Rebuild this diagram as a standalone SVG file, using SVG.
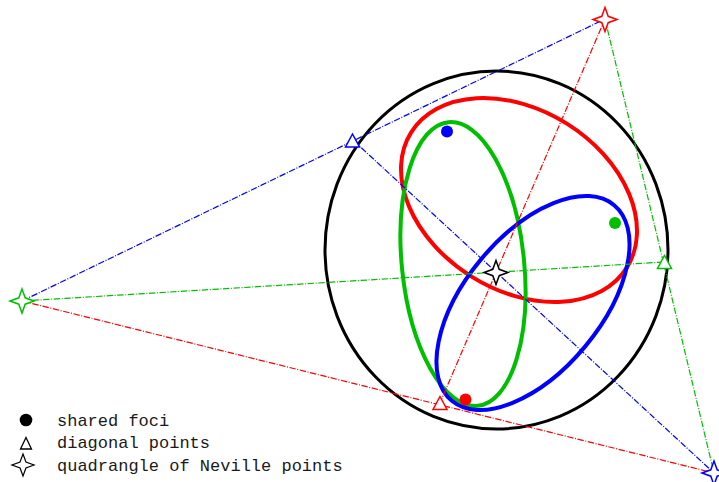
<svg xmlns="http://www.w3.org/2000/svg" width="719" height="482" viewBox="0 0 719 482">
<style>
  .conn { fill: none; stroke-width: 1.2; stroke-dasharray: 6.4 1.6 1 1.6; }
  .ell { fill: none; stroke-width: 4; }
  .star { fill: #ffffff; stroke-width: 1.5; stroke-linejoin: miter; }
  .tri { fill: #ffffff; stroke-width: 1.5; }
  .lbl { font-family: "Liberation Mono", "Courier New", monospace; font-size: 17px; fill: #1a1a1a; }
</style>
<defs>
  <path id="star4" d="M0,-12 L3.2,-3.2 L12,0 L3.2,3.2 L0,12 L-3.2,3.2 L-12,0 L-3.2,-3.2 Z"/>
  <path id="tri" d="M0,-6.5 L7,6.5 L-7,6.5 Z"/>
</defs>
<rect width="719" height="482" fill="#ffffff"/>

<g id="circle">
  <ellipse cx="496.5" cy="250" rx="171.5" ry="179" fill="none" stroke="#000000" stroke-width="3"/>
</g>

<g id="conics">
  <ellipse id="ellipse-red" class="ell" stroke="#ff0000" cx="519" cy="200" rx="127.3" ry="90.1" transform="rotate(32.1 519 200)"/>
  <ellipse id="ellipse-green" class="ell" stroke="#00bf00" cx="463" cy="264" rx="142.6" ry="61.1" transform="rotate(84.1 463 264)"/>
  <ellipse id="ellipse-blue" class="ell" stroke="#0000ff" cx="533" cy="303" rx="127.1" ry="67.9" transform="rotate(-50.3 533 303)"/>
</g>

<g id="connectors">
  <path class="conn" stroke="#0000ff" d="M22,301 L605,19"/>
  <path class="conn" stroke="#0000ff" d="M353.5,140.6 L714,473"/>
  <path class="conn" stroke="#ff0000" d="M22,301 L714,473"/>
  <path class="conn" stroke="#ff0000" d="M439.5,404 L605,19"/>
  <path class="conn" stroke="#00bf00" d="M22,301 L664,262"/>
  <path class="conn" stroke="#00bf00" d="M605,19 L714,473"/>
</g>

<g id="focus-blue"><circle cx="447" cy="131.5" r="6" fill="#0000ff"/></g>
<g id="focus-green"><circle cx="615" cy="223" r="6" fill="#00bf00"/></g>
<g id="focus-red"><circle cx="465.5" cy="399.5" r="6" fill="#ff0000"/></g>

<g id="diag-blue"><use href="#tri" class="tri" stroke="#0000ff" transform="translate(352.5,140.5)"/></g>
<g id="diag-green"><use href="#tri" class="tri" stroke="#00bf00" transform="translate(664.5,262)"/></g>
<g id="diag-red"><use href="#tri" class="tri" stroke="#ff0000" transform="translate(440,403)"/></g>

<g id="neville-red"><use href="#star4" class="star" stroke="#ff0000" transform="translate(605,19.5)"/></g>
<g id="neville-green"><use href="#star4" class="star" stroke="#00bf00" transform="translate(22,301)"/></g>
<g id="neville-blue"><use href="#star4" class="star" stroke="#0000ff" transform="translate(714,473)"/></g>
<g id="neville-black"><use href="#star4" class="star" stroke="#000000" transform="translate(496,272.5)"/></g>

<g id="legend">
  <g id="legend-foci">
    <circle cx="26" cy="420" r="6.3" fill="#000000"/>
    <text class="lbl" x="57" y="425.5">shared foci</text>
  </g>
  <g id="legend-diagonal">
    <path d="M26,437.5 L31.5,449 L20.5,449 Z" fill="#ffffff" stroke="#000000" stroke-width="1.3"/>
    <text class="lbl" x="57" y="448">diagonal points</text>
  </g>
  <g id="legend-neville">
    <use href="#star4" fill="#ffffff" stroke="#000000" stroke-width="1.3" transform="translate(23,465) scale(0.92)"/>
    <text class="lbl" x="57" y="470.5">quadrangle of Neville points</text>
  </g>
</g>
</svg>
